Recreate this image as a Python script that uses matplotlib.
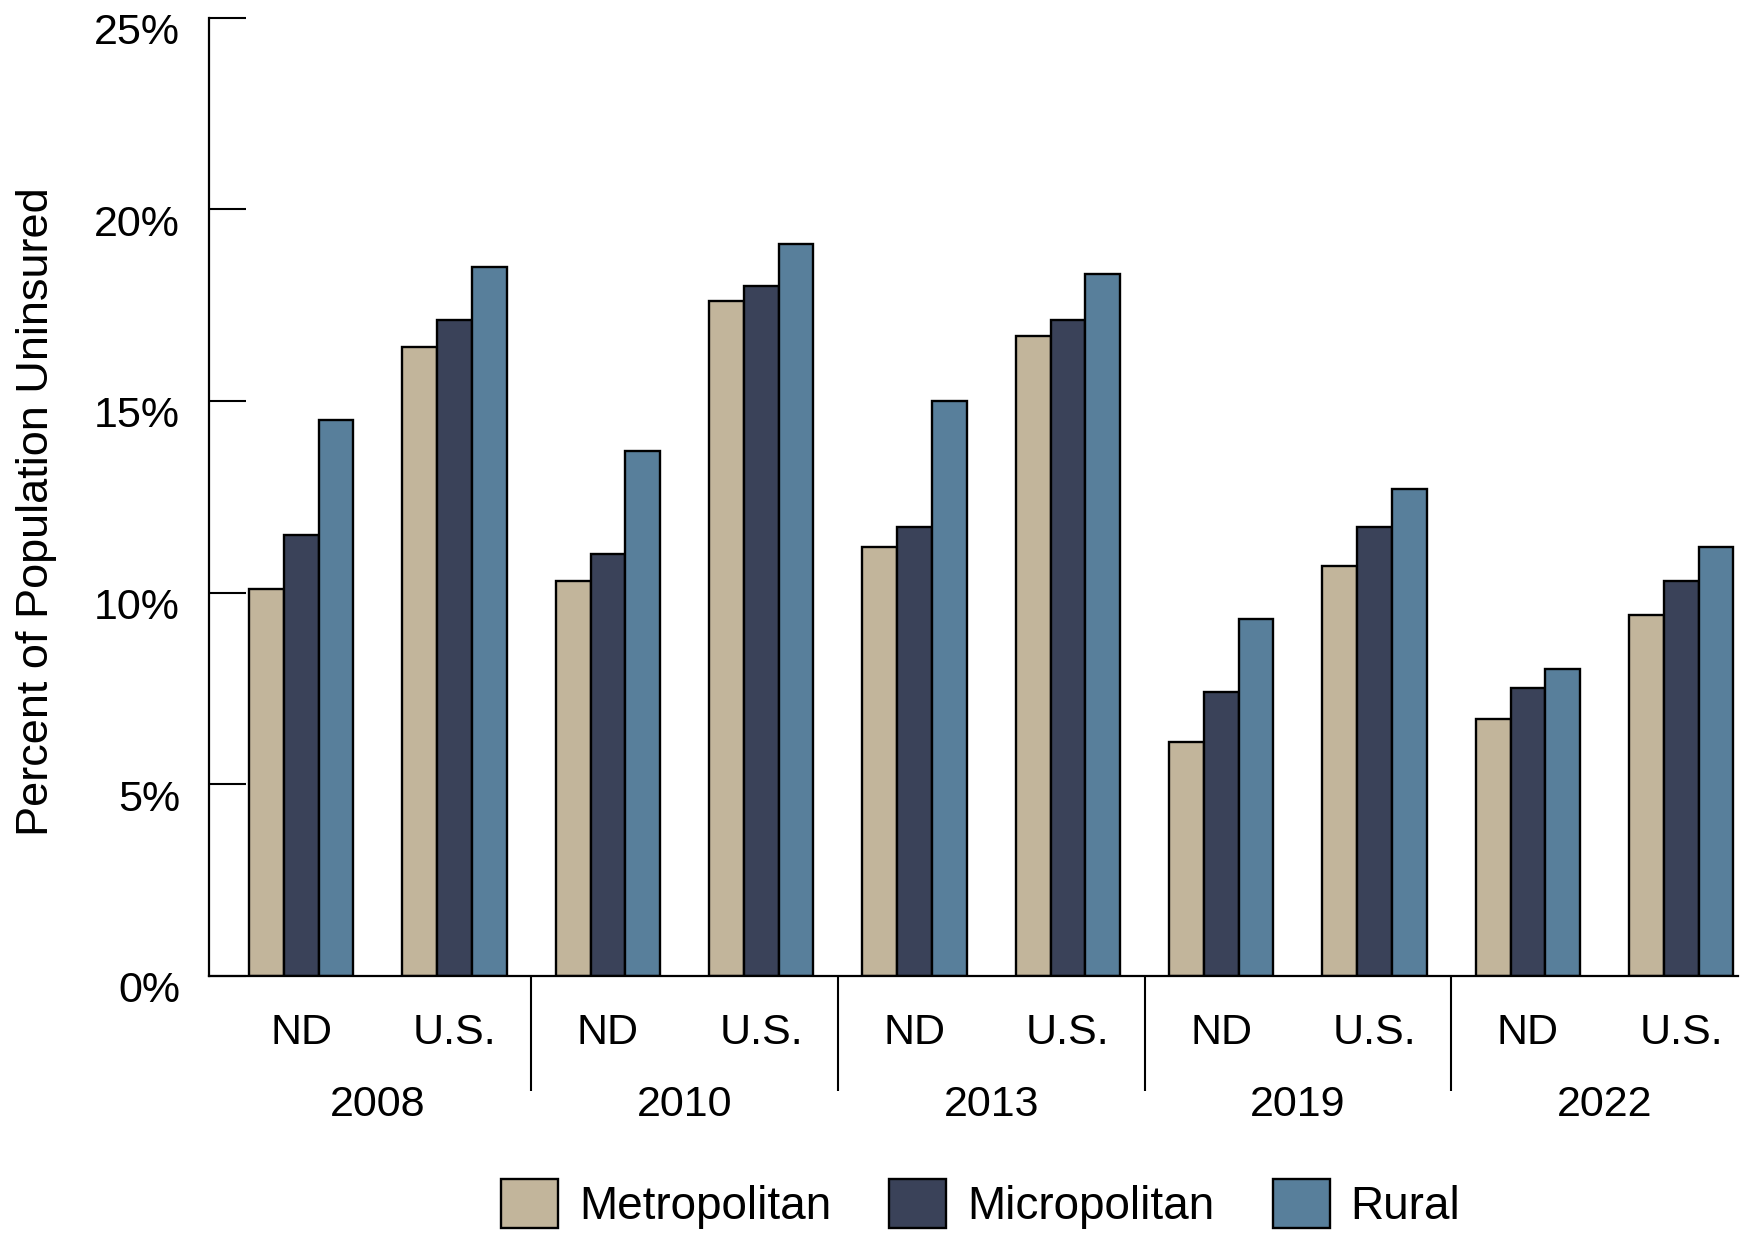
import numpy as np
import matplotlib
matplotlib.use('Agg')
import matplotlib.pyplot as plt
from matplotlib.transforms import ScaledTranslation
from matplotlib.patches import Patch

years = ['2008', '2010', '2013', '2019', '2022']
places = ['ND', 'U.S.'] * 5
series = ['Metropolitan', 'Micropolitan', 'Rural']
colors = ['#C2B59B', '#3A4259', '#587F9B']

# percent uninsured, order: ND 2008, US 2008, ND 2010, US 2010, ...
metro = [10.1, 16.4, 10.3, 17.6, 11.2, 16.7, 6.1, 10.7, 6.7, 9.4]
micro = [11.5, 17.1, 11.0, 18.0, 11.7, 17.1, 7.4, 11.7, 7.5, 10.3]
rural = [14.5, 18.5, 13.7, 19.1, 15.0, 18.3, 9.3, 12.7, 8.0, 11.2]

plt.rcParams['font.family'] = ['Liberation Sans', 'DejaVu Sans']

fig = plt.figure(figsize=(17.45, 12.35), dpi=100)
ax = fig.add_axes([0.1199, 0.21, 0.8761, 0.7756])

x = np.arange(len(places))
w = 0.227
for i, (vals, c, name) in enumerate(zip([metro, micro, rural], colors, series)):
    ax.bar(x + (i - 1) * w, vals, w, color=c, edgecolor='black', linewidth=1.7, label=name, zorder=2)

ax.set_xlim(-0.6, 9.37)
ax.set_ylim(0, 25)
ax.set_yticks([0, 5, 10, 15, 20, 25])
ax.set_yticklabels(['0%', '5%', '10%', '15%', '20%', '25%'], fontsize=31)
ax.tick_params(axis='y', direction='in', length=26.6, width=1.5, pad=21)
for lab in ax.get_yticklabels():
    lab.set_transform(lab.get_transform() + ScaledTranslation(0, -0.11, fig.dpi_scale_trans))

for s in ['top', 'right']:
    ax.spines[s].set_visible(False)
for s in ['left', 'bottom']:
    ax.spines[s].set_linewidth(1.6)

# separators between year groups
ax.set_xticks([1.5, 3.5, 5.5, 7.5])
ax.set_xticklabels([])
ax.tick_params(axis='x', which='major', direction='out', length=83, width=1.5)
ax.set_xticks(x, minor=True)
ax.set_xticklabels(places, minor=True, fontsize=31)
ax.tick_params(axis='x', which='minor', length=0, pad=27)

for j, yr in enumerate(years):
    ax.annotate(yr, xy=(2 * j + 0.5, 0), xycoords=ax.get_xaxis_transform(),
                xytext=(0, -79), textcoords='offset points',
                ha='center', va='top', fontsize=31)

fig.text(0.021, 0.586, 'Percent of Population Uninsured', rotation=90,
         ha='center', va='center', fontsize=32.5)

handles = [Patch(facecolor=c, edgecolor='black', linewidth=1.7) for c in colors]
fig.legend(handles, series, loc='center', bbox_to_anchor=(0.562, 0.025), ncol=3,
           frameon=False, prop={'size': 33},
           handlelength=1.24, handleheight=1.27, handletextpad=0.46, columnspacing=1.27)

fig.savefig('out.png', dpi=100)
